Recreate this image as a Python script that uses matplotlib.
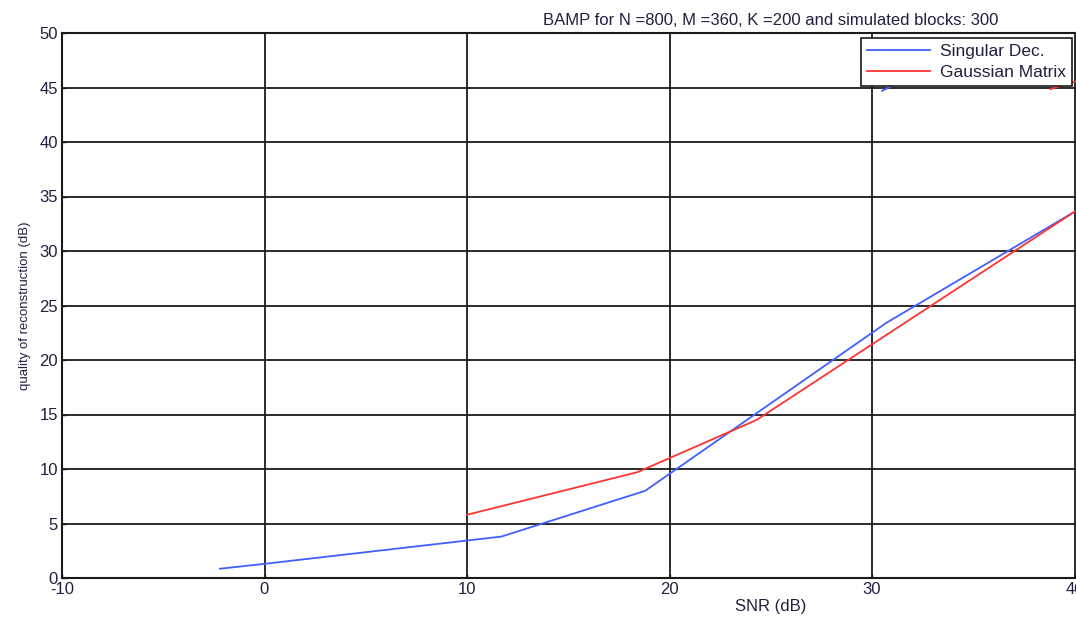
import numpy as np
from matplotlib import pyplot as plt

# BAMP reconstruction quality vs SNR
snr_sd = [-2.2, 0.0, 11.7, 18.8, 30.7, 40.0]
q_sd = [0.85, 1.3, 3.8, 8.0, 23.4, 33.6]

snr_gm = [10.0, 18.4, 24.3, 40.0]
q_gm = [5.8, 9.7, 14.5, 33.6]

# upper curve pieces that run under the legend box
snr_sd_hi = [30.5, 32.5]
q_sd_hi = [44.7, 46.5]
snr_gm_hi = [38.8, 40.5]
q_gm_hi = [44.85, 45.8]

xticks = [-10, 0, 10, 20, 30, 40, 50, 60]
yticks = [0, 5, 10, 15, 20, 25, 30, 35, 40, 45, 50]

plt.rcParams['font.family'] = ['Liberation Sans', 'DejaVu Sans']
plt.rcParams['axes.unicode_minus'] = False

fig = plt.figure(figsize=(10.76, 6.19), dpi=100)
# axes runs past the right edge of the figure (x up to 60)
ax = fig.add_axes([62 / 1076, 41 / 619, 1417.5 / 1076, 545 / 619])

blue = '#3f5fff'
red = '#ff3333'
ax.plot(snr_sd, q_sd, color=blue, lw=1.3, label='Singular Dec.')
ax.plot(snr_gm, q_gm, color=red, lw=1.3, label='Gaussian Matrix')
ax.plot(snr_sd_hi, q_sd_hi, color=blue, lw=1.3)
ax.plot(snr_gm_hi, q_gm_hi, color=red, lw=1.3)

ax.set_xlim(-10, 60)
ax.set_ylim(0, 50)
ax.set_xticks(xticks)
ax.set_yticks(yticks)
ax.grid(True, color='#1a1a1a', linestyle='-', linewidth=1.3)
ax.set_axisbelow(True)
for sp in ax.spines.values():
    sp.set_color('#1a1a1a')
    sp.set_linewidth(1.5)
ax.tick_params(direction='in', length=3, width=1, colors='#1a1a1a',
               labelsize=12, labelcolor='#202040', pad=3)

ax.set_title('BAMP for N =800, M =360, K =200 and simulated blocks: 300',
             fontsize=12, color='#202040', pad=6)
ax.set_xlabel('SNR (dB)', fontsize=12, color='#202040', labelpad=1)
ax.set_ylabel('quality of reconstruction (dB)', fontsize=9.5, color='#202040', labelpad=6)

leg = ax.legend(loc='upper right', bbox_to_anchor=(1072 / 1076, 1 - 38 / 619),
                bbox_transform=fig.transFigure, borderaxespad=0, fancybox=False,
                framealpha=1, edgecolor='#1a1a1a', fontsize=12.5, handlelength=3.6,
                borderpad=0.35, labelspacing=0.3, handletextpad=0.6)
leg.get_frame().set_linewidth(1.2)
for t in leg.get_texts():
    t.set_color('#202040')

fig.savefig('out.png', dpi=100)
